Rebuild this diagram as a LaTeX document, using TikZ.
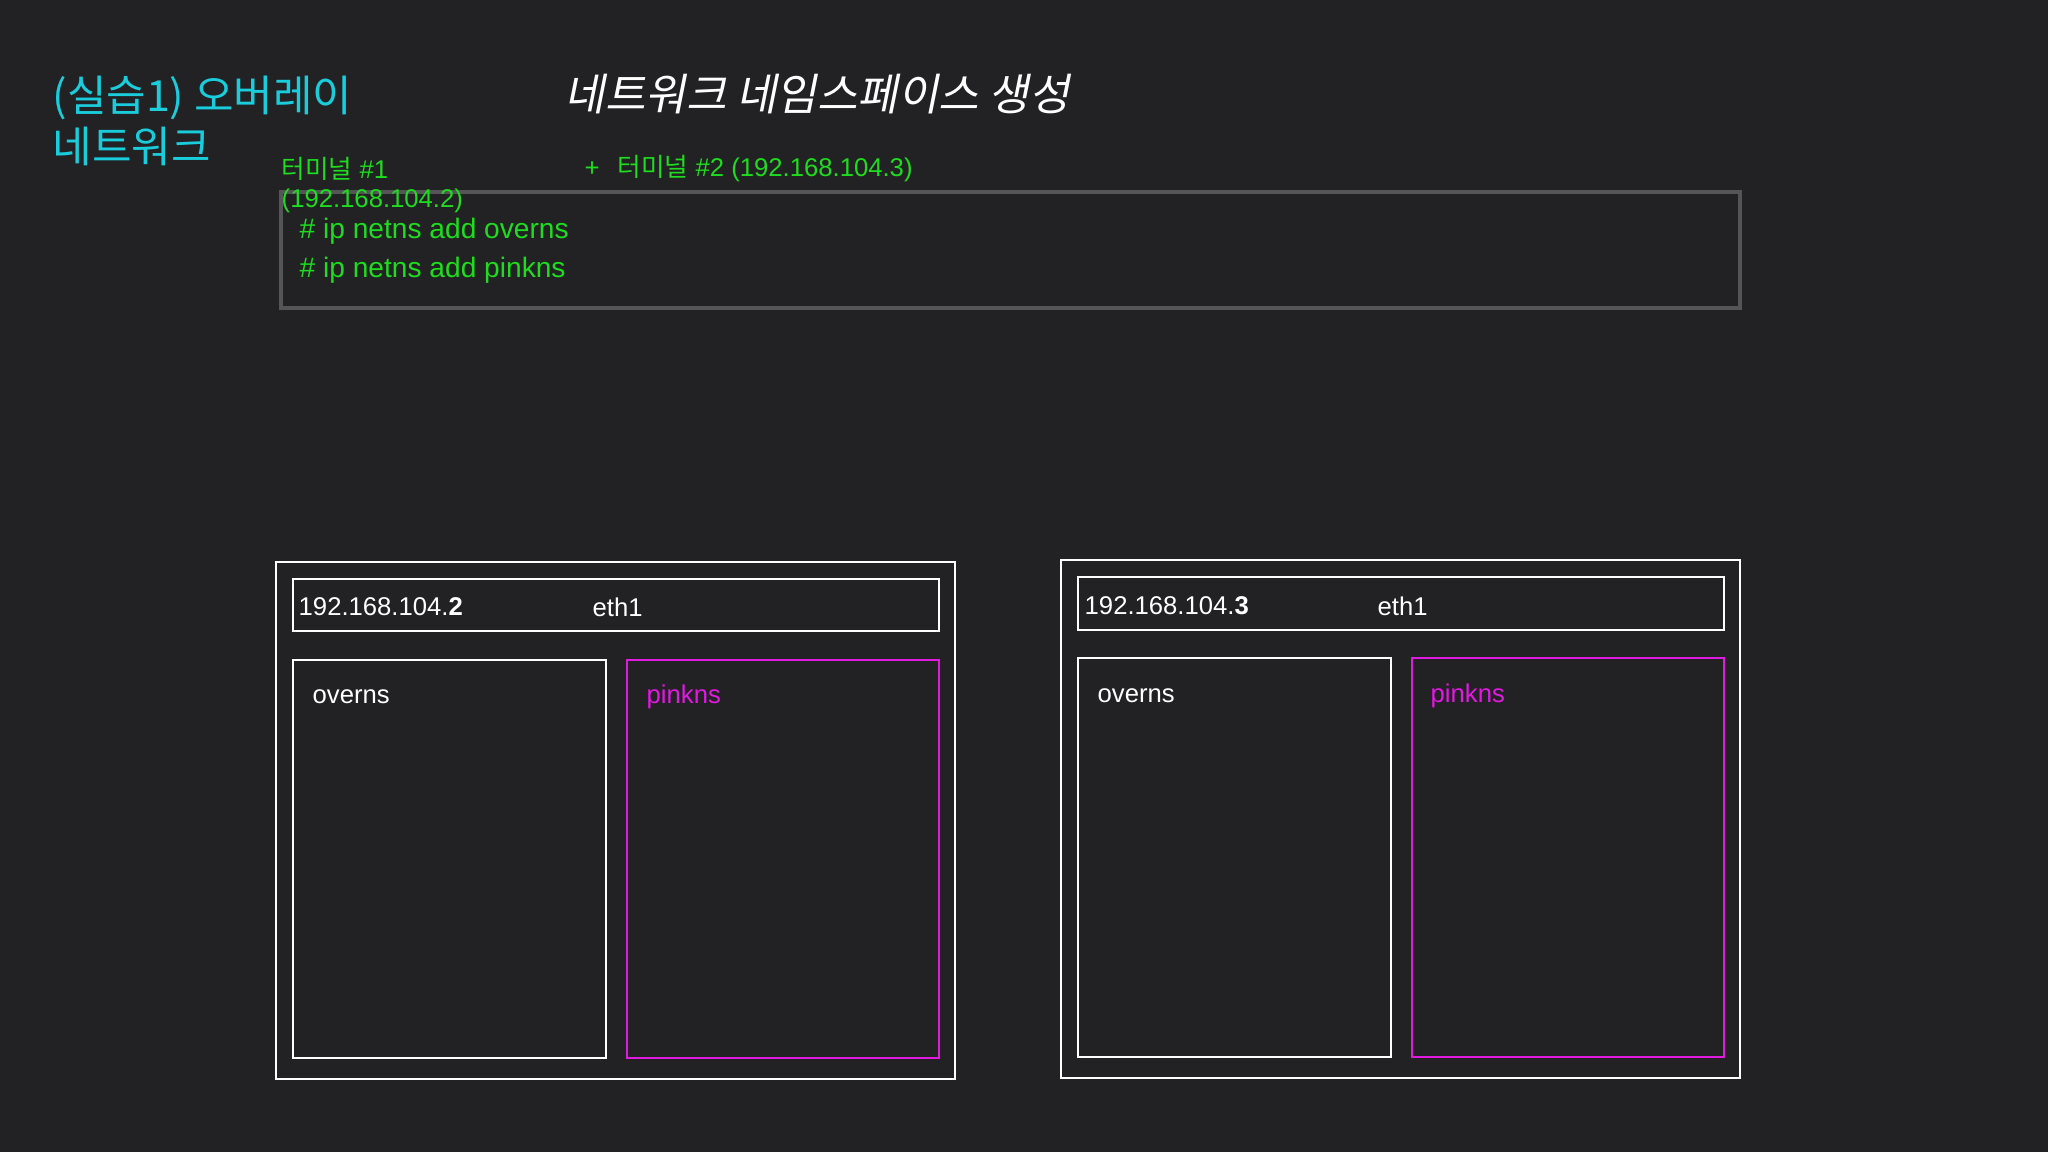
\documentclass[tikz,border=0pt]{standalone}
\usepackage{fontspec}
\setmainfont{Liberation Sans}
\newfontfamily\kr{Noto Sans CJK KR}
\newfontfamily\krslant[FakeSlant=0.2]{Noto Sans CJK KR}
\usetikzlibrary{positioning}
\definecolor{slidebg}{RGB}{34,33,36}
\definecolor{titlecyan}{RGB}{25,205,220}
\definecolor{termgreen}{RGB}{30,220,30}
\definecolor{nsmagenta}{RGB}{225,25,225}
\definecolor{termgray}{RGB}{85,85,88}

\begin{document}
\begin{tikzpicture}[x=0.01cm, y=-0.01cm,
        titletext/.style={text=titlecyan, anchor=west, inner sep=0pt, font=\kr\fontsize{12.2}{14}\selectfont},
        termlabel/.style={text=termgreen, anchor=west, inner sep=0pt, font=\fontsize{7.3}{8}\selectfont},
        cmdtext/.style={text=termgreen, anchor=west, inner sep=0pt, font=\fontsize{8}{9}\selectfont},
        boxtext/.style={text=white, anchor=west, inner sep=0pt, font=\fontsize{7.3}{9}\selectfont},
        hostbox/.style={draw=white, line width=0.6pt},
        nsbox/.style={draw=white, line width=0.6pt},
        termbox/.style={draw=termgray, line width=0.9pt}]
        \fill[slidebg] (0,0) rectangle (2048,1152);
        \useasboundingbox (0,0) rectangle (2048,1152);
        % titles
        \node[titletext] (title1) at (52,98) {(실습1) 오버레이};
        \node[titletext] (title2) at (52,146) {네트워크};
        \node[titletext, text=white, font=\krslant\fontsize{12.5}{14}\selectfont] (subtitle) at (564,94) {네트워크 네임스페이스 생성};
        % terminal
        \draw[termbox] (281,192) rectangle (1740,308);
        \node[termlabel] (term1) at (281,169) {{\kr 터미널} \#1};
        \node[termlabel] (term1ip) at (281,201) {(192.168.104.2)};
        \node[termlabel] (term2) at (584,169) {+\hspace{0.7em}{\kr 터미널} \#2 (192.168.104.3)};
        \node[cmdtext] (cmd1) at (299,231) {\# ip netns add overns};
        \node[cmdtext] (cmd2) at (299,270) {\# ip netns add pinkns};
        % host 1
        \draw[hostbox] (276,562) rectangle (955,1079);
        \draw[nsbox] (293,579) rectangle (939,631);
        \draw[nsbox] (293,660) rectangle (606,1058);
        \draw[nsbox, draw=nsmagenta] (627,660) rectangle (939,1058);
        \node[boxtext] (ipone) at (298,607) {192.168.104.\textbf{2}};
        \node[boxtext] (ethone) at (592,607) {eth1};
        \node[boxtext] (overone) at (312,697) {overns};
        \node[boxtext, text=nsmagenta] (pinkone) at (646,697) {pinkns};
        % host 2
        \draw[hostbox] (1061,560) rectangle (1740,1078);
        \draw[nsbox] (1078,577) rectangle (1724,630);
        \draw[nsbox] (1078,658) rectangle (1391,1057);
        \draw[nsbox, draw=nsmagenta] (1412,658) rectangle (1724,1057);
        \node[boxtext] (iptwo) at (1084,606) {192.168.104.\textbf{3}};
        \node[boxtext] (ethtwo) at (1377,606) {eth1};
        \node[boxtext] (overtwo) at (1097,696) {overns};
        \node[boxtext, text=nsmagenta] (pinktwo) at (1430,696) {pinkns};
\end{tikzpicture}
\end{document}
